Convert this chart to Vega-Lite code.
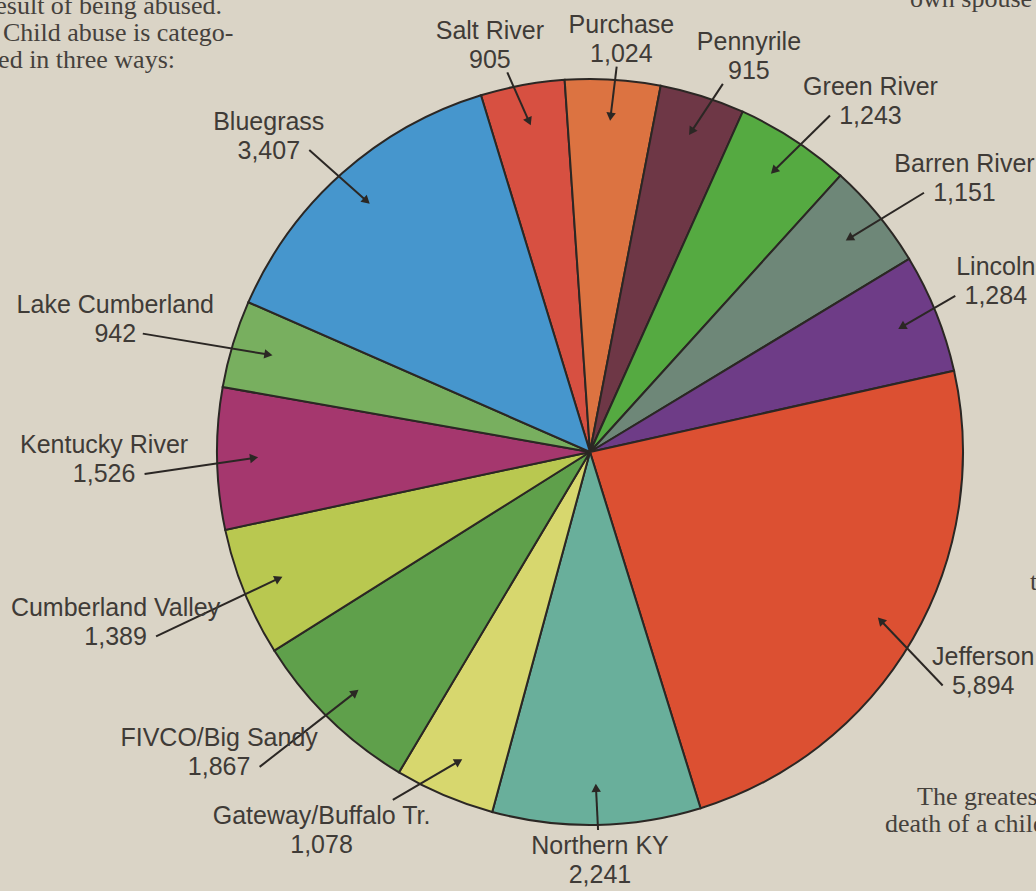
{
  "$schema": "https://vega.github.io/schema/vega-lite/v6.json",
  "width": 892,
  "height": 878,
  "autosize": {"type": "none"},
  "padding": {"left": 144, "top": 13, "right": 0, "bottom": 0},
  "background": "#dad4c6",
  "config": {"view": {"stroke": null}},
  "datasets": {
    "regions": [
      {"idx": 1, "name": "Salt River", "v": 905},
      {"idx": 2, "name": "Purchase", "v": 1024},
      {"idx": 3, "name": "Pennyrile", "v": 915},
      {"idx": 4, "name": "Green River", "v": 1243},
      {"idx": 5, "name": "Barren River", "v": 1151},
      {"idx": 6, "name": "Lincoln", "v": 1284},
      {"idx": 7, "name": "Jefferson", "v": 5894},
      {"idx": 8, "name": "Northern KY", "v": 2241},
      {"idx": 9, "name": "Gateway/Buffalo Tr.", "v": 1078},
      {"idx": 10, "name": "FIVCO/Big Sandy", "v": 1867},
      {"idx": 11, "name": "Cumberland Valley", "v": 1389},
      {"idx": 12, "name": "Kentucky River", "v": 1526},
      {"idx": 13, "name": "Lake Cumberland", "v": 942},
      {"idx": 14, "name": "Bluegrass", "v": 3407}
    ],
    "articleRight": [
      {"t": "result of being abused.", "x": -368, "y": 438},
      {"t": "rized in three ways:", "x": -415, "y": 384}
    ],
    "articleLeft": [
      {"t": "Child abuse is catego-", "x": -587, "y": 411},
      {"t": "own spouse", "x": 320, "y": 445},
      {"t": "t", "x": 440, "y": -138},
      {"t": "The greatest", "x": 327, "y": -353},
      {"t": "death of a child", "x": 295, "y": -380}
    ]
  },
  "data": {"name": "regions"},
  "layer": [
    {
      "mark": {"type": "arc", "outerRadius": 373, "stroke": "#2b2724", "strokeWidth": 2},
      "encoding": {
        "theta": {"field": "v", "type": "quantitative", "stack": true, "scale": {"range": [-0.2967, 5.9865]}},
        "order": {"field": "idx", "type": "quantitative"},
        "color": {
          "field": "name",
          "type": "nominal",
          "legend": null,
          "scale": {
            "domain": ["Salt River", "Purchase", "Pennyrile", "Green River", "Barren River", "Lincoln", "Jefferson", "Northern KY", "Gateway/Buffalo Tr.", "FIVCO/Big Sandy", "Cumberland Valley", "Kentucky River", "Lake Cumberland", "Bluegrass"],
            "range": ["#d75041", "#dc7341", "#6e3746", "#55aa41", "#6e8778", "#6e3c87", "#dc5032", "#69af9b", "#d7d76e", "#5fa04b", "#b9c850", "#a5376e", "#78af5f", "#4696cd"]
          }
        }
      }
    },
    {
      "transform": [
        {"joinaggregate": [{"op": "sum", "field": "v", "as": "total"}]},
        {"window": [{"op": "sum", "field": "v", "as": "cum"}], "sort": [{"field": "idx"}], "frame": [null, 0]},
        {"calculate": "-0.2967 + 2*PI*(datum.cum - datum.v/2)/datum.total", "as": "th"},
        {"calculate": "sin(datum.th)", "as": "sx"},
        {"calculate": "cos(datum.th)", "as": "sy"},
        {"calculate": "datum.name + '\\n' + format(datum.v, ',')", "as": "label"},
        {"calculate": "length(datum.name)*6", "as": "wn"},
        {"calculate": "length(format(datum.v, ','))*6.5", "as": "wq"},
        {"calculate": "clamp(2.5*datum.sx, -1, 1)", "as": "fx"},
        {"calculate": "clamp(2.5*datum.sy, -1, 1)", "as": "fy"},
        {"calculate": "(datum.sx < 0 ? 402 : 392)*datum.sx + datum.fx*datum.wn", "as": "lx"},
        {"calculate": "(datum.sy > 0 ? 384 : 380)*datum.sy + datum.fy*29", "as": "ly"},
        {"calculate": "datum.ly + 14.5", "as": "ty"},
        {"calculate": "abs(datum.sx) > 0.5 ? datum.lx - (datum.sx > 0 ? 1 : -1)*(datum.wq + 8) : datum.lx - clamp(2*datum.sx, -1, 1)*0.8*datum.wn", "as": "ax"},
        {"calculate": "abs(datum.sx) > 0.5 ? datum.ly - 14 : (datum.sy > 0 ? datum.ly - 27 : datum.ly + 31)", "as": "ay"},
        {"calculate": "336*datum.sx", "as": "bx"},
        {"calculate": "336*datum.sy", "as": "by"},
        {"calculate": "(atan2(datum.bx - datum.ax, datum.by - datum.ay)*180/PI + 360) % 360", "as": "ang"}
      ],
      "layer": [
        {
          "mark": {"type": "rule", "color": "#2b2724", "strokeWidth": 2},
          "encoding": {
            "x": {"field": "ax", "type": "quantitative", "scale": {"domain": [-446, 446], "nice": false, "zero": false}, "axis": null},
            "y": {"field": "ay", "type": "quantitative", "scale": {"domain": [-439, 439], "nice": false, "zero": false}, "axis": null},
            "x2": {"field": "bx"},
            "y2": {"field": "by"}
          }
        },
        {
          "mark": {"type": "point", "shape": "triangle-up", "filled": true, "size": 90, "color": "#2b2724", "opacity": 1},
          "encoding": {
            "x": {"field": "bx", "type": "quantitative", "scale": {"domain": [-446, 446], "nice": false, "zero": false}, "axis": null},
            "y": {"field": "by", "type": "quantitative", "scale": {"domain": [-439, 439], "nice": false, "zero": false}, "axis": null},
            "angle": {"field": "ang", "type": "quantitative", "scale": {"domain": [0, 360], "range": [0, 360]}}
          }
        },
        {
          "mark": {"type": "text", "font": "Liberation Sans", "fontSize": 25, "lineHeight": 29, "lineBreak": "\n", "align": "center", "baseline": "middle", "color": "#3f3b37"},
          "encoding": {
            "x": {"field": "lx", "type": "quantitative", "scale": {"domain": [-446, 446], "nice": false, "zero": false}, "axis": null},
            "y": {"field": "ty", "type": "quantitative", "scale": {"domain": [-439, 439], "nice": false, "zero": false}, "axis": null},
            "text": {"field": "label"}
          }
        }
      ]
    },
    {
      "data": {"name": "articleLeft"},
      "mark": {"type": "text", "align": "left", "baseline": "alphabetic", "font": "Liberation Serif", "fontSize": 26, "color": "#45413c"},
      "encoding": {
        "x": {"field": "x", "type": "quantitative", "scale": {"domain": [-446, 446], "nice": false, "zero": false}, "axis": null},
        "y": {"field": "y", "type": "quantitative", "scale": {"domain": [-439, 439], "nice": false, "zero": false}, "axis": null},
        "text": {"field": "t"}
      }
    },
    {
      "data": {"name": "articleRight"},
      "mark": {"type": "text", "align": "right", "baseline": "alphabetic", "font": "Liberation Serif", "fontSize": 26, "color": "#45413c"},
      "encoding": {
        "x": {"field": "x", "type": "quantitative", "scale": {"domain": [-446, 446], "nice": false, "zero": false}, "axis": null},
        "y": {"field": "y", "type": "quantitative", "scale": {"domain": [-439, 439], "nice": false, "zero": false}, "axis": null},
        "text": {"field": "t"}
      }
    }
  ]
}
